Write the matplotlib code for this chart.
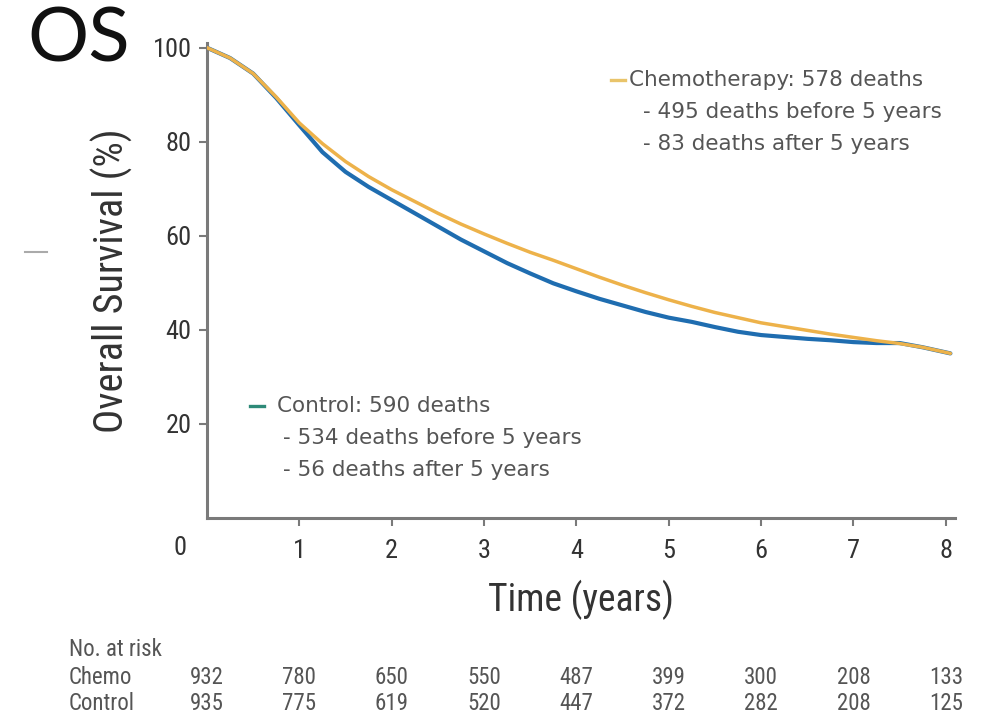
import matplotlib
matplotlib.use("Agg")
import matplotlib.pyplot as plt
import matplotlib.transforms as mtransforms
from matplotlib import font_manager

# ---- data ----
time_years = [0, 0.25, 0.5, 0.75, 1.0, 1.25, 1.5, 1.75, 2.0, 2.25, 2.5, 2.75, 3.0, 3.25, 3.5, 3.75,
              4.0, 4.25, 4.5, 4.75, 5.0, 5.25, 5.5, 5.75, 6.0, 6.25, 6.5, 6.75, 7.0, 7.25, 7.5, 7.75, 8.05]
chemo_os = [100, 97.8, 94.5, 89.5, 84.0, 79.6, 75.8, 72.6, 69.8, 67.3, 64.8, 62.5, 60.4, 58.4, 56.5, 54.8,
            53.0, 51.2, 49.5, 47.9, 46.4, 45.0, 43.7, 42.6, 41.5, 40.7, 39.9, 39.1, 38.4, 37.7, 37.1, 36.3, 35.0]
control_os = [100, 97.8, 94.5, 89.3, 83.5, 77.8, 73.6, 70.4, 67.6, 64.8, 62.0, 59.2, 56.7, 54.2, 52.0, 49.9,
              48.2, 46.6, 45.2, 43.8, 42.6, 41.7, 40.6, 39.6, 38.9, 38.5, 38.1, 37.8, 37.4, 37.2, 37.2, 36.3, 35.0]
x_ticks = [1, 2, 3, 4, 5, 6, 7, 8]
y_ticks = [20, 40, 60, 80, 100]
risk_times = [0, 1, 2, 3, 4, 5, 6, 7, 8]
risk_chemo = [932, 780, 650, 550, 487, 399, 300, 208, 133]
risk_control = [935, 775, 619, 520, 447, 372, 282, 208, 125]
chemo_legend = ["Chemotherapy: 578 deaths", "- 495 deaths before 5 years", "- 83 deaths after 5 years"]
control_legend = ["Control: 590 deaths", "- 534 deaths before 5 years", "- 56 deaths after 5 years"]

ORANGE = "#EDB24A"
BLUE = "#1F6DB0"
GREY_TXT = "#555555"
DARK_TXT = "#333333"
AXIS_C = "#7a7a7a"

installed = {f.name for f in font_manager.fontManager.ttflist}
COND = [n for n in ["Liberation Sans Narrow", "Roboto Condensed", "Roboto"] if n in installed] + ["DejaVu Sans"]
COND = COND[:1] + ["DejaVu Sans"]

W, H = 999, 719
fig = plt.figure(figsize=(W / 100, H / 100), dpi=100)
fig.patch.set_facecolor("white")

def fx(px):
    return px / W

def fy(py):
    return 1 - py / H

x0, x1 = 207, 955
y_top, y_bot = 43, 518
ax = fig.add_axes([fx(x0), fy(y_bot), fx(x1 - x0), (y_bot - y_top) / H])
ax.set_xlim(0, 8.1)
ax.set_ylim(0, 101)

ax.plot(time_years, chemo_os, color=ORANGE, lw=2.5, solid_capstyle="round", zorder=3)
ax.plot(time_years, control_os, color=BLUE, lw=3.0, solid_capstyle="round", zorder=2)

for s in ["top", "right"]:
    ax.spines[s].set_visible(False)
for s in ["left", "bottom"]:
    ax.spines[s].set_color(AXIS_C)
    ax.spines[s].set_linewidth(2.2)

ax.set_xticks(x_ticks)
ax.set_yticks(y_ticks)
ax.tick_params(axis="both", colors=AXIS_C, width=1.5, length=6, direction="out")
ax.tick_params(axis="x", labelcolor=DARK_TXT, labelsize=19, pad=9)
ax.tick_params(axis="y", labelcolor=DARK_TXT, labelsize=19, pad=5)
for lab in ax.get_xticklabels() + ax.get_yticklabels():
    lab.set_family(COND)

fig.text(fx(180), fy(548), "0", ha="center", va="center", fontsize=19, color=DARK_TXT, family=COND)

ax.set_ylabel("Overall Survival (%)", fontsize=29, color=DARK_TXT, family=COND, labelpad=14)
ax.set_xlabel("Time (years)", fontsize=27, color=DARK_TXT, family=COND, labelpad=12)

# OS title
fig.text(fx(27), fy(40), "OS", ha="left", va="center", fontsize=55, color="#111111",
         family=["Lato", "DejaVu Sans"], fontweight="normal")

# small grey dash at left
fig.add_artist(plt.Line2D([fx(25), fx(47)], [fy(252), fy(252)], color="#aaaaaa", lw=1.5))

# legends
def legend_block(px, py, color, lines, dash_x, indent):
    fig.add_artist(plt.Line2D([fx(dash_x), fx(dash_x + 14)], [fy(py), fy(py)], color=color, lw=2.4))
    for i, t in enumerate(lines):
        fig.text(fx(px + (indent if i else 0)), fy(py + i * 32), t, ha="left", va="center",
                 fontsize=15.5, color=GREY_TXT, family=["DejaVu Sans"])

legend_block(629, 80, "#E9C46A", chemo_legend, 611, 14)
legend_block(277, 406, "#2E8A78", control_legend, 250, 6)

# number at risk table
trans = mtransforms.blended_transform_factory(ax.transData, fig.transFigure)
for txt, py in [("No. at risk", 650), ("Chemo", 677), ("Control", 703)]:
    fig.text(fx(69), fy(py), txt, ha="left", va="center", fontsize=16.5, color=GREY_TXT, family=COND)
for t, c, k in zip(risk_times, risk_chemo, risk_control):
    fig.text(t, fy(677), str(c), transform=trans, ha="center", va="center", fontsize=16.5,
             color=GREY_TXT, family=COND)
    fig.text(t, fy(703), str(k), transform=trans, ha="center", va="center", fontsize=16.5,
             color=GREY_TXT, family=COND)

fig.savefig("out.png", dpi=100, facecolor="white")
